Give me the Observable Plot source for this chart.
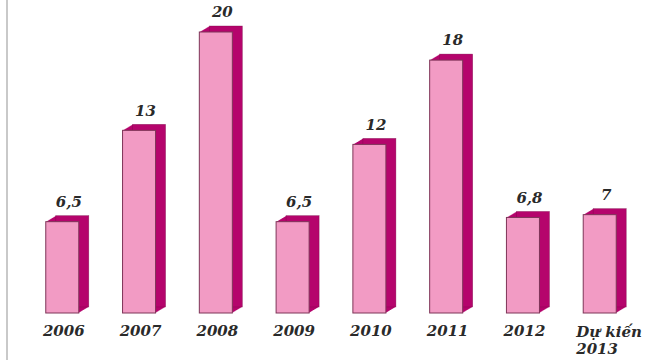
<!DOCTYPE html>
<html>
<head>
<meta charset="utf-8">
<script src="https://cdn.jsdelivr.net/npm/d3@7"></script>
<script src="https://cdn.jsdelivr.net/npm/@observablehq/plot@0.6"></script>
<style>
  html, body { margin: 0; padding: 0; background: #fff; }
  #wrap { position: relative; width: 660px; height: 360px; overflow: hidden; }
  #edge { position: absolute; left: 6px; top: 0; width: 2px; height: 360px; background: #c9c9c9; }
  #chart { position: absolute; left: 0; top: 0; }
</style>
</head>
<body>
<div id="wrap"><div id="edge"></div><div id="chart"></div></div>
<script>
const years = ["2006", "2007", "2008", "2009", "2010", "2011", "2012", "Dự kiến\n2013"];
const values = [6.5, 13, 20, 6.5, 12, 18, 6.8, 7];
const valueLabels = ["6,5", "13", "20", "6,5", "12", "18", "6,8", "7"];

const data = years.map((y, i) => ({ year: y, value: values[i], label: valueLabels[i] }));
const lastIndex = years.length - 1;

const font = {
  fontFamily: "DejaVu Serif",
  fontWeight: "bold",
  fontStyle: "italic",
  fontSize: 15,
  fill: "#2a2a2a"
};

// extrusion layers giving the 3D depth (side and top faces)
const depthSteps = d3.range(1, 11);
const depthMarks = depthSteps.map(k =>
  Plot.barY(data, { x: "year", y: "value", fill: "#b5046c", dx: k, dy: -0.6 * k })
);

const chart = Plot.plot({
  width: 660,
  height: 360,
  marginLeft: 2,
  marginRight: 0,
  marginTop: 32,
  marginBottom: 47,
  style: { background: "transparent", overflow: "visible" },
  x: { domain: years, padding: 0.57, round: false, axis: null },
  y: { domain: [0, 20], axis: null },
  marks: [
    ...depthMarks,
    Plot.barY(data, { x: "year", y: "value", fill: "none", stroke: "#7a0a48", strokeWidth: 0.6, strokeOpacity: 0.6, dx: 10, dy: -6 }),
    Plot.barY(data, { x: "year", y: "value", fill: "#f29bc4", stroke: "#7e3558", strokeWidth: 1 }),
    Plot.text(data, { x: "year", y: "value", text: "label", dx: 6, dy: -20, ...font }),
    Plot.text(data.filter((d, i) => i < lastIndex), { x: "year", text: "year", frameAnchor: "bottom", lineAnchor: "top", dx: 1, dy: 12, ...font }),
    Plot.text(data.filter((d, i) => i === lastIndex), { x: "year", text: "year", frameAnchor: "bottom", lineAnchor: "top", textAnchor: "start", dx: -24, dy: 12, lineHeight: 1.1, ...font })
  ]
});
document.getElementById("chart").appendChild(chart);
</script>
</body>
</html>
